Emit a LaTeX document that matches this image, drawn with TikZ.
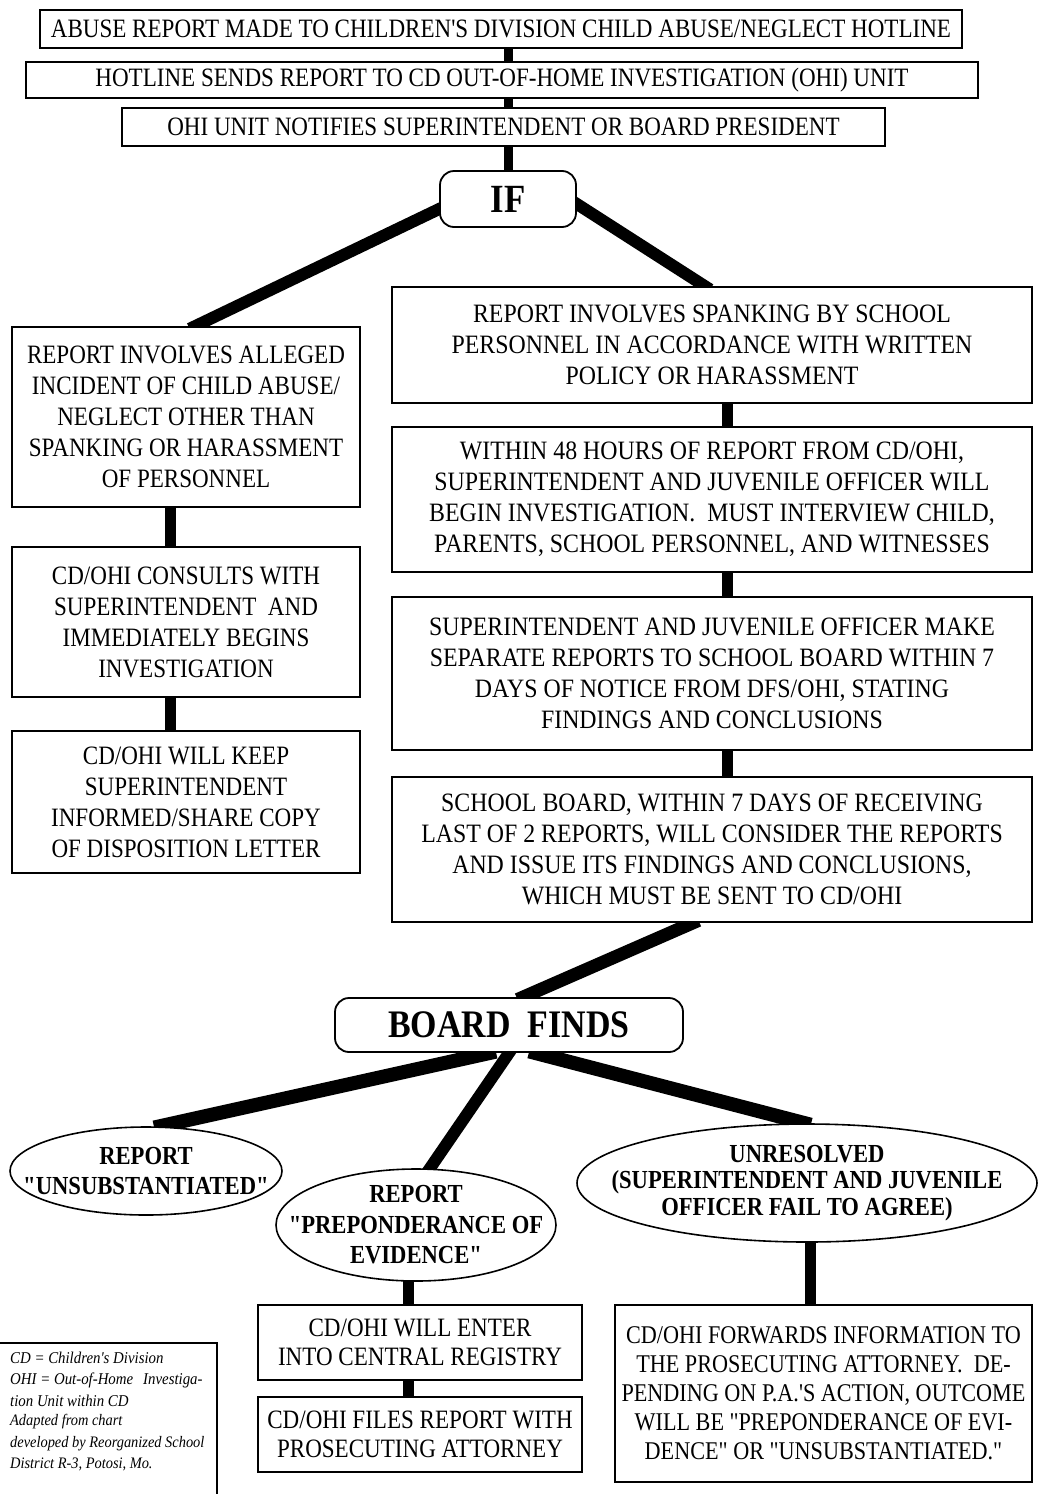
\documentclass[tikz,border=0pt]{standalone}
\usepackage{fontspec}
\setmainfont{Liberation Serif}[FakeStretch=0.87, Ligatures=TeXOff]
\newfontfamily\widerserif{Liberation Serif}[FakeStretch=0.9, Ligatures=TeXOff]
\usetikzlibrary{shapes.geometric,backgrounds}

\begin{document}
\begin{tikzpicture}[x=1pt,y=-1pt,
    box/.style={draw, line width=1.6pt, fill=white, rectangle, inner sep=2pt,
      align=center, font=\fontsize{26.5}{31}\selectfont},
    rbox/.style={box, font=\fontsize{26.5}{31}\widerserif},
    test/.style={draw, line width=1.8pt, fill=white, rounded corners=14pt,
      inner sep=0pt, font=\bfseries},
    outcome/.style={draw, ellipse, line width=1.6pt, fill=white, inner sep=0pt},
    outtext/.style={align=center, inner sep=0pt,
      font=\fontsize{26}{30.5}\selectfont\bfseries},
    link/.style={line width=11pt, shorten <=-6pt, shorten >=-6pt}]
  \useasboundingbox (0,0) rectangle (1039,1494);

  \coordinate (LeftSpine)  at (170,0);
  \coordinate (RightSpine) at (727,0);
  \coordinate (PSpine)     at (408,0);
  \coordinate (URSpine)    at (810,0);

  % hotline chain
  \node[box, minimum width=922pt, minimum height=38pt] (Report) at (501,29)
    {ABUSE REPORT MADE TO CHILDREN'S DIVISION CHILD ABUSE/NEGLECT HOTLINE};
  \node[box, minimum width=952pt, minimum height=36pt] (SendOHI) at (502,80)
    {HOTLINE SENDS REPORT TO CD OUT-OF-HOME INVESTIGATION (OHI) UNIT};
  \node[box, minimum width=763pt, minimum height=38pt] (Notify) at (503.5,127)
    {OHI UNIT NOTIFIES SUPERINTENDENT OR BOARD PRESIDENT};
  \node[test, minimum width=136pt, minimum height=56pt,
    font=\fontsize{40}{40}\selectfont\bfseries] (If) at (508,199) {IF};

  % left branch
  \node[box, minimum width=348pt, minimum height=180pt] (Alleged) at (186,417)
    {REPORT INVOLVES ALLEGED\\ INCIDENT OF CHILD ABUSE/\\ NEGLECT OTHER THAN\\
     SPANKING OR HARASSMENT\\ OF PERSONNEL};
  \node[box, minimum width=348pt, minimum height=150pt] (Consults) at (186,622)
    {CD/OHI CONSULTS WITH\\ SUPERINTENDENT\ \ AND\\ IMMEDIATELY BEGINS\\ INVESTIGATION};
  \node[box, minimum width=348pt, minimum height=142pt] (KeepInformed) at (186,802)
    {CD/OHI WILL KEEP\\ SUPERINTENDENT\\ INFORMED/SHARE COPY\\ OF DISPOSITION LETTER};

  % right branch
  \node[rbox, minimum width=640pt, minimum height=116pt] (Spanking) at (712,345)
    {REPORT INVOLVES SPANKING BY SCHOOL\\ PERSONNEL IN ACCORDANCE WITH WRITTEN\\
     POLICY OR HARASSMENT};
  \node[rbox, minimum width=640pt, minimum height=145pt] (Within48) at (712,499.5)
    {WITHIN 48 HOURS OF REPORT FROM CD/OHI,\\ SUPERINTENDENT AND JUVENILE OFFICER WILL\\
     BEGIN INVESTIGATION.\ \ MUST INTERVIEW CHILD,\\ PARENTS, SCHOOL PERSONNEL, AND WITNESSES};
  \node[rbox, minimum width=640pt, minimum height=153pt] (SeparateReports) at (712,673.5)
    {SUPERINTENDENT AND JUVENILE OFFICER MAKE\\ SEPARATE REPORTS TO SCHOOL BOARD WITHIN 7\\
     DAYS OF NOTICE FROM DFS/OHI, STATING\\ FINDINGS AND CONCLUSIONS};
  \node[rbox, minimum width=640pt, minimum height=145pt] (BoardConsiders) at (712,849.5)
    {SCHOOL BOARD, WITHIN 7 DAYS OF RECEIVING\\ LAST OF 2 REPORTS, WILL CONSIDER THE REPORTS\\
     AND ISSUE ITS FINDINGS AND CONCLUSIONS,\\ WHICH MUST BE SENT TO CD/OHI};

  \node[test, minimum width=348pt, minimum height=54pt,
    font=\fontsize{39}{39}\selectfont\bfseries] (BoardFinds) at (509,1025) {BOARD\ \ FINDS};

  % outcomes
  \node[outcome, minimum width=272pt, minimum height=88pt] (Unsubst) at (146,1171) {};
  \node[outtext] (UnsubstText) at (Unsubst) {REPORT\\ "UNSUBSTANTIATED"};
  \node[outcome, minimum width=280pt, minimum height=112pt] (Prepond) at (416,1225) {};
  \node[outtext] (PrepondText) at (Prepond) {REPORT\\ "PREPONDERANCE OF\\ EVIDENCE"};
  \node[outcome, minimum width=460pt, minimum height=118pt] (Unresolved) at (807,1183) {};
  \node[outtext, font=\fontsize{26}{26.5}\selectfont\bfseries] (UnresolvedText) at (Unresolved)
    {UNRESOLVED\\ (SUPERINTENDENT AND JUVENILE\\ OFFICER FAIL TO AGREE)};

  \node[box, minimum width=324pt, minimum height=75pt,
    font=\fontsize{26.5}{29}\selectfont] (Registry) at (420,1342.5)
    {CD/OHI WILL ENTER\\ INTO CENTRAL REGISTRY};
  \node[box, minimum width=324pt, minimum height=75pt,
    font=\fontsize{26.5}{29}\selectfont] (FilesPA) at (420,1434.5)
    {CD/OHI FILES REPORT WITH\\ PROSECUTING ATTORNEY};
  \node[box, minimum width=417pt, minimum height=177pt,
    font=\fontsize{25.5}{29}\selectfont] (Forwards) at (823.5,1393.5)
    {CD/OHI FORWARDS INFORMATION TO\\ THE PROSECUTING ATTORNEY.\ \ DE-\\
     PENDING ON P.A.'S ACTION, OUTCOME\\ WILL BE "PREPONDERANCE OF EVI-\\
     DENCE" OR "UNSUBSTANTIATED."};

  % legend
  \draw[line width=1.2pt] (0,1343) -| (217,1494);
  \node[anchor=west, align=left, inner sep=0pt,
    font=\fontsize{16.5}{21.5}\widerserif\itshape] (LegendKey) at (10,1379)
    {CD = Children's Division\\ OHI = Out-of-Home\hspace{10pt}Investiga-\\ tion Unit within CD};
  \node[anchor=west, align=left, inner sep=0pt,
    font=\fontsize{16}{21.5}\widerserif\itshape] (LegendSource) at (10,1443)
    {Adapted from chart\\ developed by Reorganized School\\ District R-3, Potosi, Mo.};

  \begin{pgfonlayer}{background}
    \draw[link, line width=9pt] (Report.south -| If.north) -- (SendOHI.north -| If.north);
    \draw[link, line width=9pt] (SendOHI.south -| If.north) -- (Notify.north -| If.north);
    \draw[link, line width=9pt] (Notify.south -| If.north) -- (If.north);
    \draw[link, line width=12pt] ([yshift=-10pt]If.west) -- ([xshift=9pt]Alleged.north);
    \draw[link, line width=12pt] ([yshift=-5pt]If.east) -- ([xshift=-7pt]Spanking.north);
    \draw[link] (Alleged.south -| LeftSpine) -- (Consults.north -| LeftSpine);
    \draw[link] (Consults.south -| LeftSpine) -- (KeepInformed.north -| LeftSpine);
    \draw[link] (Spanking.south -| RightSpine) -- (Within48.north -| RightSpine);
    \draw[link] (Within48.south -| RightSpine) -- (SeparateReports.north -| RightSpine);
    \draw[link] (SeparateReports.south -| RightSpine) -- (BoardConsiders.north -| RightSpine);
    \draw[link, line width=13pt] ([xshift=-19pt]BoardConsiders.south) -- ([xshift=14pt]BoardFinds.north);
    \draw[link, line width=14pt] ([xshift=-19pt]BoardFinds.south) -- ([xshift=14pt]Unsubst.north);
    \draw[link, line width=12pt] (BoardFinds.south) -- ([xshift=14pt]Prepond.north);
    \draw[link, line width=14pt] ([xshift=26pt]BoardFinds.south) -- ([xshift=-2pt]Unresolved.north);
    \draw[link] (Prepond.south -| PSpine) -- (Registry.north -| PSpine);
    \draw[link] (Registry.south -| PSpine) -- (FilesPA.north -| PSpine);
    \draw[link] (Unresolved.south -| URSpine) -- (Forwards.north -| URSpine);
  \end{pgfonlayer}
\end{tikzpicture}
\end{document}
